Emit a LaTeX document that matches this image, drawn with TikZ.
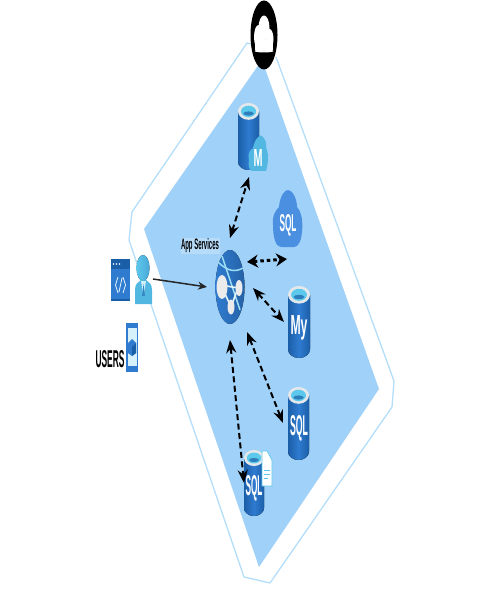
\documentclass[tikz,border=0pt]{standalone}
\usepackage{fontspec}
\setmainfont{Liberation Sans}
\usetikzlibrary{arrows.meta}
\definecolor{zone}{HTML}{A0D1F9}
\definecolor{zoneline}{HTML}{B4DEFA}
\definecolor{azdark}{HTML}{1B5EA8}
\definecolor{azmid}{HTML}{2F7BD0}
\definecolor{azlight}{HTML}{5CC8EC}
\definecolor{rimgrey}{HTML}{E4E8EA}
\definecolor{cloudblue}{HTML}{4A8FE0}
\tikzset{
 zonefill/.style={fill=zone,draw=none},
 zoneedge/.style={draw=zoneline,line width=1.3pt,fill=none,line join=round},
 dasharrow/.style={draw=black,line width=2pt,dash pattern=on 6pt off 3.5pt,{Stealth[length=13pt,width=10pt]}-{Stealth[length=13pt,width=10pt]}},
 dotarrow/.style={draw=black,line width=3pt,dash pattern=on 3.5pt off 3pt,{Stealth[length=11pt,width=13pt]}-{Stealth[length=11pt,width=13pt]}},
 solidarrow/.style={draw=black!85,line width=1.5pt,-{Stealth[length=9pt,width=8pt]}},
 iconlabel/.style={text=white,inner sep=0pt,font=\bfseries},
 plainlabel/.style={text=black,inner sep=0pt,font=\bfseries},
}
% x-left, x-right, top, bottom
\newcommand{\dbcyl}[4]{%
 \pgfmathsetmacro{\cx}{(#1+#2)/2}\pgfmathsetmacro{\rx}{(#2-#1)/2}%
 \pgfmathsetmacro{\ry}{\rx*0.8}%
 \fill[left color=azdark,right color=azdark,middle color=azmid]
   (#1,#3+\ry) -- (#1,#4-\ry) arc[start angle=180,end angle=360,x radius=\rx,y radius=-\ry] -- (#2,#3+\ry) -- cycle;
 \fill[rimgrey] (\cx,#3+\ry) ellipse[x radius=\rx,y radius=\ry];
 \fill[azlight] (\cx,#3+\ry) ellipse[x radius=\rx*0.72,y radius=\ry*0.68];
 \fill[azdark!70!azlight] (\cx,#3+\ry*1.25) ellipse[x radius=\rx*0.5,y radius=\ry*0.25];
}
\begin{document}
\begin{tikzpicture}[x=1pt,y=-1pt]
\useasboundingbox (0,0) rectangle (489,593);
\fill[white] (0,0) rectangle (489,593);

% zone
\fill[zonefill] (262,60) -- (379,389) -- (259,567) -- (144,229) -- cycle;
\draw[zoneedge] (276,57) -- (390,370) -- (394,381) -- (392,407) -- (270,583) -- (244,577) -- (129,240) -- (132,212) -- (247,43) -- (252,44);

% top cloud badge
\fill[black] (264,35) ellipse[x radius=13.5,y radius=34.5];
\fill[white] (264,51) ellipse[x radius=9.5,y radius=1.5];
\fill[white] (255,40) rectangle (273,50);
\fill[white] (258.5,37) ellipse[x radius=4.5,y radius=12];
\fill[white] (269.5,39) ellipse[x radius=4,y radius=10];
\fill[white] (264,28) ellipse[x radius=5.5,y radius=12.5];

% Managed instance
\dbcyl{238}{259}{103}{170}
\fill[azlight!85!azdark] (249,160) .. controls (247,150) and (252,150) .. (253,148)
  .. controls (254,140) and (261,132) .. (263,137) .. controls (268,142) and (265,148) .. (267,150)
  .. controls (269,156) and (268,165) .. (266,171) -- (252,171) .. controls (249,170) and (248,165) .. (249,160) -- cycle;
\node[iconlabel] (mlabel) at (258,158) {\resizebox{9pt}{17pt}{M}};

% Azure SQL cloud
\fill[cloudblue] (273,225) .. controls (272,215) and (276,210) .. (279,207)
  .. controls (280,195) and (285,190) .. (288,190) .. controls (292,190) and (297,198) .. (297,207)
  .. controls (302,213) and (303,222) .. (302,232) .. controls (301,242) and (298,247) .. (294,247)
  -- (281,247) .. controls (276,247) and (273,238) .. (273,225) -- cycle;
\node[iconlabel] (sqlcloudlabel) at (288,225) {\resizebox{17pt}{17pt}{SQL}};

% MySQL
\dbcyl{288}{310}{286}{358}
\node[iconlabel] (mylabel) at (299,328) {\resizebox{17pt}{19pt}{My}};

% SQL database
\dbcyl{288}{309}{387}{460}
\node[iconlabel] (sqllabel) at (299,428) {\resizebox{18pt}{20pt}{SQL}};

% SQL file
\dbcyl{244}{264}{450}{516}
\node[iconlabel] (sqlfilelabel) at (254,488) {\resizebox{17pt}{20pt}{SQL}};
\fill[white,draw=azlight,line width=0.7pt] (262,451) -- (267,451) -- (272,460) -- (272,486) -- (262,486) -- cycle;
\draw[azlight,line width=1pt] (264,470) -- (270,470) (264,474) -- (270,474);
\draw[azlight,line width=1pt] (264,478) -- (268,478);

% App Services globe
\fill[left color=azmid,right color=azmid!80!black] (230,287) ellipse[x radius=14.5,y radius=37];
\draw[azlight!60!white,line width=1.5pt] (222,256) -- (240,310);
\draw[azlight!60!white,line width=1.5pt] (218,262) .. controls (228,272) and (236,272) .. (243,268);
\draw[white!85!azlight,line width=1.6pt] (221,285) -- (238,288) (221,285) -- (231,307) (238,288) -- (231,307);
\fill[white!92!black] (222,287) ellipse[x radius=5.5,y radius=12];
\fill[white!92!black] (239,288) ellipse[x radius=3.5,y radius=8];
\fill[white!92!black] (231,307) ellipse[x radius=3.5,y radius=7.5];
\node[plainlabel,fill=white,fill opacity=0.25,text opacity=1,inner sep=0.5pt] (applabel) at (200,246) {\resizebox{38pt}{11pt}{App Services}};

% code window
\fill[azmid] (111,259) rectangle (130,300);
\fill[azdark] (111,259) rectangle (130,269);
\fill[azdark] (111,299) rectangle (130,301);
\fill[white] (113.5,264) circle (0.9) (116.5,264) circle (0.9) (119.5,264) circle (0.9);
\draw[white!85!azlight,line width=0.8pt] (118,277) -- (115.5,285) -- (118,293) (123,277) -- (125.5,285) -- (123,293) (122,278) -- (119,292);

% user figure
\fill[left color=azlight,right color=azlight!70!azdark] (143,268) ellipse[x radius=6.5,y radius=13];
\fill[azlight!85!azdark] (135,304) -- (135,290) .. controls (135,284) and (138,282) .. (141,280) -- (146,280) .. controls (149,282) and (152,284) .. (152,290) -- (152,304) -- cycle;
\fill[white!70!azlight] (141,281) -- (146,281) -- (143.5,296) -- cycle;
\fill[azdark!60!azlight] (143.5,284) -- (145,296) -- (142,296) -- cycle;

% phone
\fill[azmid] (126,323) rectangle (138,372);
\fill[white!75!azlight] (127.5,328) rectangle (136.5,366);
\fill[azmid] (132,339) -- (136,343) -- (136,353) -- (132,356) -- (128,353) -- (128,343) -- cycle;
\fill[azdark] (132,347) -- (136,343) -- (136,353) -- (132,356) -- cycle;
\node[plainlabel] (users) at (110,359) {\resizebox{29pt}{17pt}{USERS}};

% connector anchors
\coordinate (userOut) at (153,279);
\coordinate (appIn) at (207,287);
\coordinate (appM) at (230,238);
\coordinate (mdb) at (249,177);
\coordinate (appCloud) at (247,262);
\coordinate (sqlCloud) at (287,259);
\coordinate (appMy) at (253,288);
\coordinate (mydb) at (284,322);
\coordinate (appSql) at (247,332);
\coordinate (sqldb) at (283,423);
\coordinate (appFile) at (230,340);
\coordinate (filedb) at (244,483);

\draw[solidarrow] (userOut) -- (appIn);
\draw[dasharrow] (appM) -- (mdb);
\draw[dotarrow] (appCloud) -- (sqlCloud);
\draw[dasharrow] (appMy) -- (mydb);
\draw[dasharrow] (appSql) -- (sqldb);
\draw[dasharrow] (appFile) -- (filedb);
\end{tikzpicture}
\end{document}
